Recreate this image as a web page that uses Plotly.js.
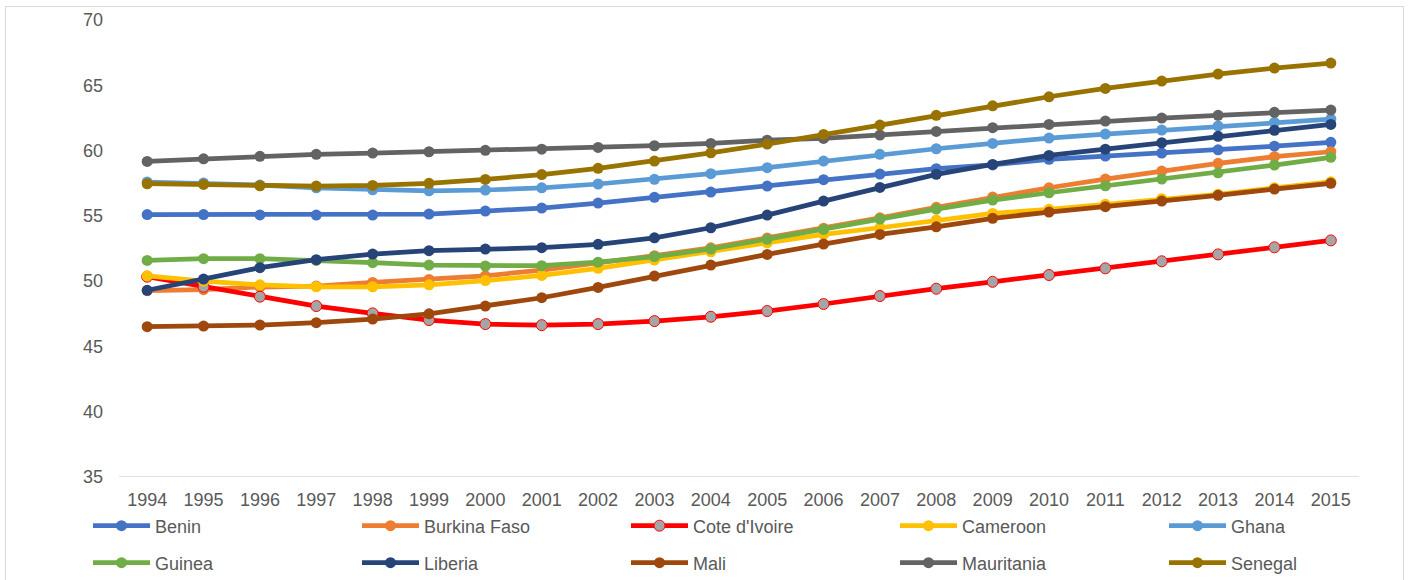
<!DOCTYPE html>
<html>
<head>
<meta charset="utf-8">
<script src="https://cdn.plot.ly/plotly-3.0.1.min.js"></script>
<style>
  html, body { margin: 0; padding: 0; background: #ffffff; overflow: hidden; }
  #frame { position: absolute; left: 5px; top: 6px; width: 1397px; height: 600px;
           border: 1px solid #D9D9D9; pointer-events: none; z-index: 5; }
  #chart { position: absolute; left: 0; top: 0; width: 1411px; height: 580px; }
</style>
</head>
<body>
<div id="chart"></div>
<div id="frame"></div>
<script>
// Life expectancy at birth (years), West African countries, 1994-2015
const years = ["1994","1995","1996","1997","1998","1999","2000","2001","2002","2003","2004",
               "2005","2006","2007","2008","2009","2010","2011","2012","2013","2014","2015"];

const benin      = [55.10,55.10,55.07,55.06,55.06,55.14,55.37,55.60,55.98,56.42,56.82,57.28,57.77,58.20,58.61,58.90,59.33,59.58,59.81,60.06,60.34,60.63];
const burkina    = [49.27,49.35,49.55,49.62,49.90,50.13,50.41,50.85,51.38,51.95,52.55,53.30,54.05,54.85,55.65,56.44,57.15,57.82,58.43,59.02,59.53,59.91];
const coteIvoire = [50.34,49.57,48.81,48.09,47.53,47.02,46.71,46.63,46.71,46.94,47.27,47.71,48.25,48.86,49.42,49.95,50.47,50.98,51.52,52.05,52.59,53.12];
const cameroon   = [50.41,50.00,49.72,49.57,49.57,49.72,50.04,50.44,50.98,51.62,52.25,52.94,53.58,54.09,54.68,55.19,55.50,55.88,56.31,56.65,57.15,57.61];
const ghana      = [57.59,57.51,57.36,57.15,57.00,56.92,56.98,57.15,57.44,57.80,58.23,58.69,59.20,59.71,60.14,60.55,60.96,61.26,61.57,61.88,62.16,62.41];
const guinea     = [51.59,51.72,51.72,51.59,51.41,51.23,51.16,51.18,51.45,51.88,52.46,53.20,53.96,54.75,55.52,56.21,56.77,57.30,57.82,58.30,58.89,59.48];
const liberia    = [49.30,50.16,51.03,51.64,52.07,52.33,52.46,52.56,52.82,53.32,54.09,55.06,56.13,57.18,58.18,58.94,59.63,60.11,60.60,61.09,61.55,62.00];
const mali       = [46.51,46.56,46.64,46.82,47.10,47.50,48.09,48.73,49.52,50.39,51.23,52.05,52.84,53.58,54.16,54.81,55.29,55.70,56.13,56.57,57.05,57.49];
const mauritania = [59.17,59.37,59.56,59.71,59.81,59.91,60.02,60.11,60.24,60.37,60.55,60.80,60.93,61.19,61.47,61.75,62.00,62.26,62.49,62.70,62.93,63.10];
const senegal    = [57.46,57.41,57.30,57.28,57.33,57.49,57.79,58.16,58.64,59.20,59.83,60.50,61.24,61.95,62.70,63.43,64.12,64.76,65.32,65.86,66.32,66.70];

const yTicks = [35, 40, 45, 50, 55, 60, 65, 70];

const series = [
  { name: "Benin",         y: benin,      color: "#4472C4", legend: "legend"  },
  { name: "Burkina Faso",  y: burkina,    color: "#ED7D31", legend: "legend"  },
  { name: "Cote d'Ivoire", y: coteIvoire, color: "#FF0000", legend: "legend", fill: "#A5A5A5" },
  { name: "Cameroon",      y: cameroon,   color: "#FFC000", legend: "legend"  },
  { name: "Ghana",         y: ghana,      color: "#5B9BD5", legend: "legend"  },
  { name: "Guinea",        y: guinea,     color: "#70AD47", legend: "legend2" },
  { name: "Liberia",       y: liberia,    color: "#264478", legend: "legend2" },
  { name: "Mali",          y: mali,       color: "#9E480E", legend: "legend2" },
  { name: "Mauritania",    y: mauritania, color: "#636363", legend: "legend2" },
  { name: "Senegal",       y: senegal,    color: "#997300", legend: "legend2" }
];

const traces = series.map(s => ({
  type: "scatter",
  mode: "lines+markers",
  name: s.name,
  x: years,
  y: s.y,
  legend: s.legend,
  line: { color: s.color, width: 4.75 },
  marker: {
    size: 11,
    color: s.fill || s.color,
    line: { color: s.color, width: s.fill ? 1 : 0 }
  },
  hoverinfo: "skip"
}));

const textColor = "#595959";
const font = { family: "Liberation Sans, Arial, sans-serif", size: 18, color: textColor };

// two single-row legends, five entries each, on a 269 px column grid
const legendCommon = {
  orientation: "h",
  xref: "paper", yref: "paper",
  xanchor: "left", yanchor: "middle",
  x: -0.0250,
  font: font,
  bgcolor: "rgba(0,0,0,0)",
  itemwidth: 57,
  entrywidth: 197,
  entrywidthmode: "pixels",
  itemclick: false,
  itemdoubleclick: false
};

const layout = {
  width: 1411,
  height: 580,
  margin: { l: 119, r: 52, t: 20, b: 103, autoexpand: false },
  paper_bgcolor: "#ffffff",
  plot_bgcolor: "#ffffff",
  font: font,
  showlegend: true,
  xaxis: {
    type: "category",
    range: [-0.5, years.length - 0.5],
    showgrid: false,
    zeroline: false,
    showline: false,
    ticks: "",
    ticklabelstandoff: 10,
    tickfont: font,
    fixedrange: true
  },
  yaxis: {
    range: [35, 70],
    tickvals: yTicks,
    ticktext: yTicks.map(String),
    showgrid: false,
    zeroline: false,
    showline: false,
    ticks: "",
    ticklabelstandoff: 15,
    tickfont: font,
    fixedrange: true
  },
  shapes: [
    { type: "line", xref: "paper", yref: "y", x0: 0, x1: 1, y0: 35, y1: 35,
      line: { color: "#D9D9D9", width: 1.5 }, layer: "below" }
  ],
  legend:  Object.assign({}, legendCommon, { y: -0.1072 }),
  legend2: Object.assign({}, legendCommon, { y: -0.1882 })
};

Plotly.newPlot("chart", traces, layout, { displayModeBar: false, staticPlot: true });
</script>
</body>
</html>
